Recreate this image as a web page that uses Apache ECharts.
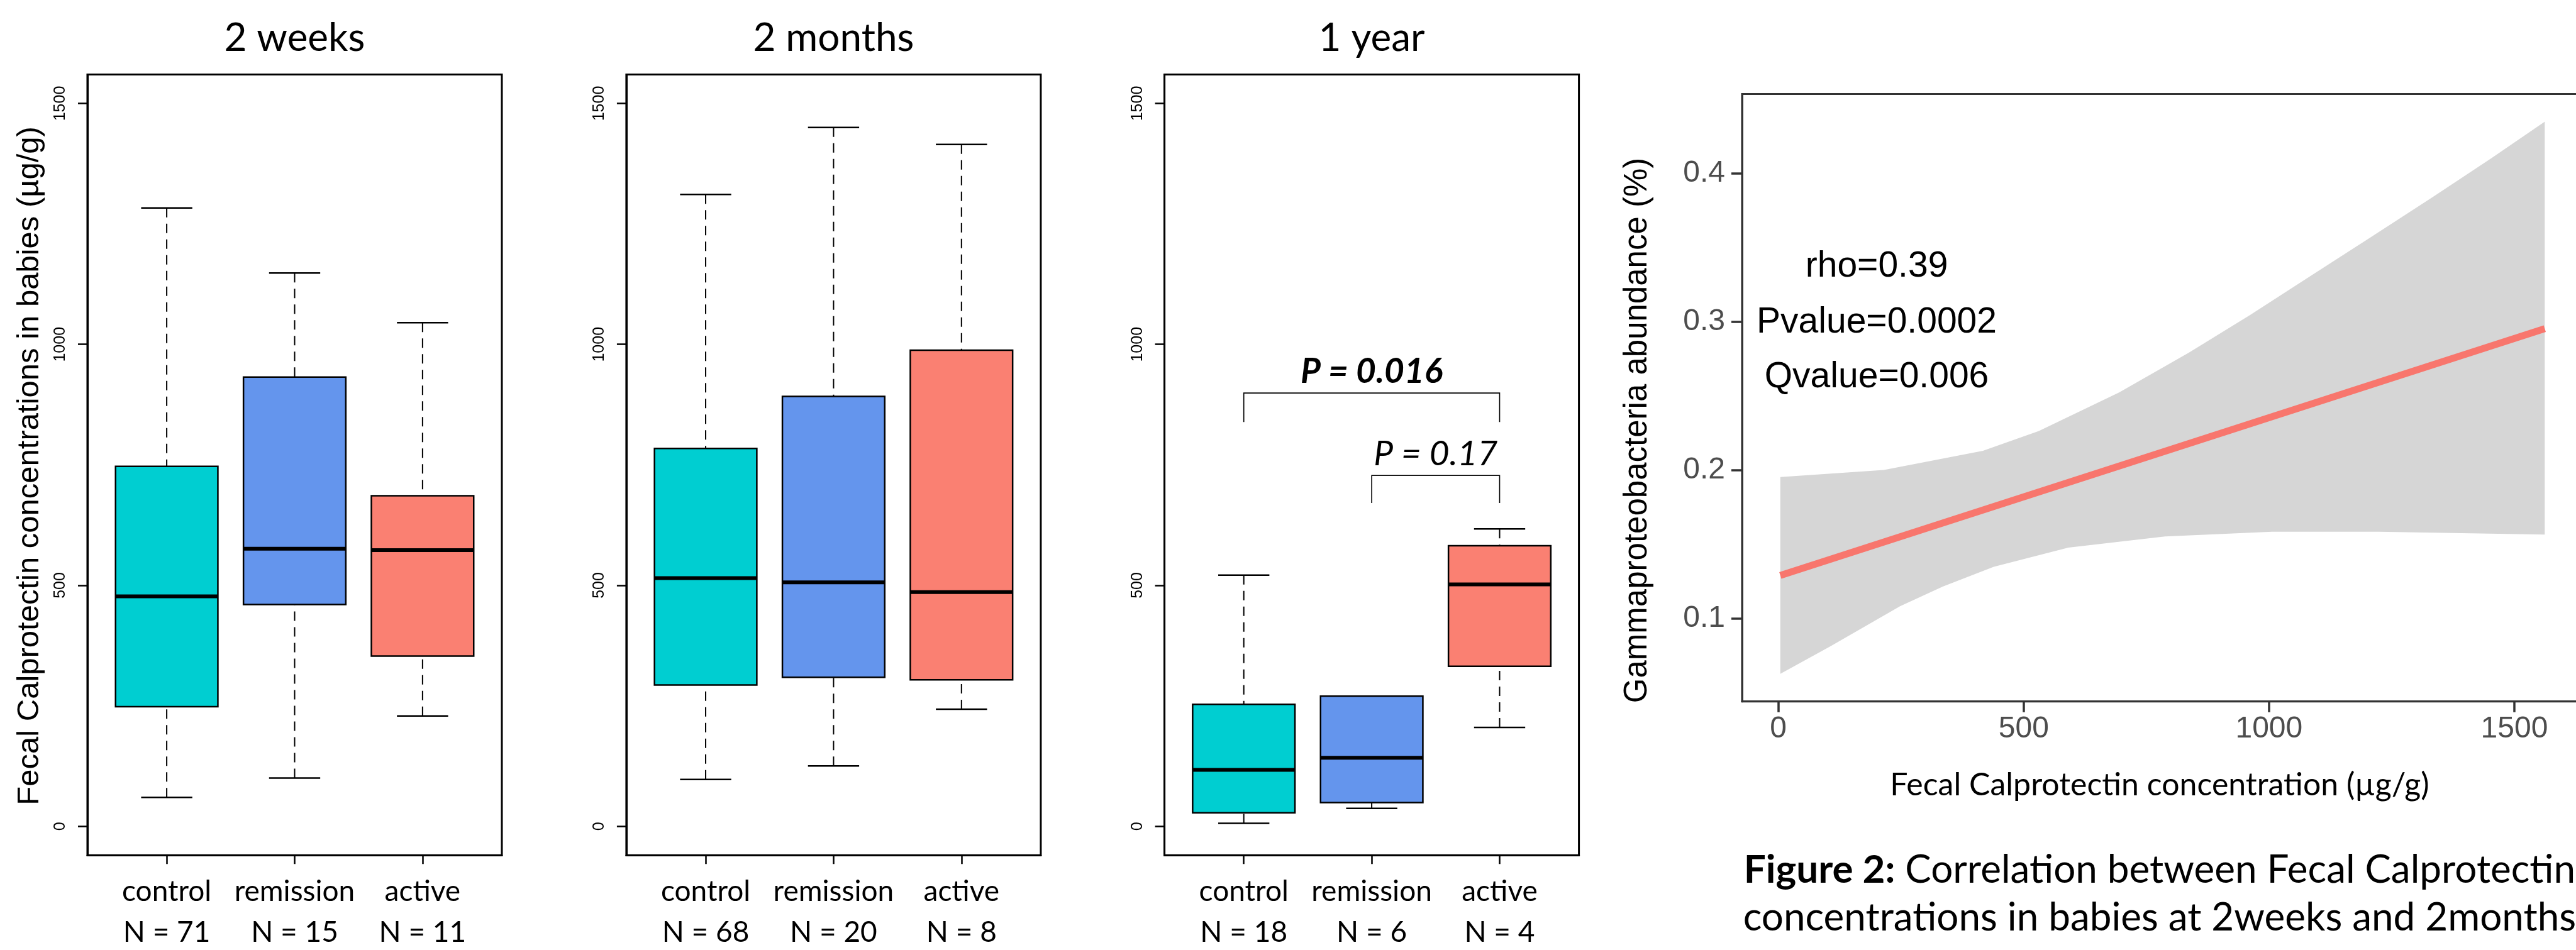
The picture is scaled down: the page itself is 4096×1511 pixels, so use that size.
<!DOCTYPE html>
<html>
<head>
<meta charset="utf-8">
<script src="https://cdn.jsdelivr.net/npm/echarts@6/dist/echarts.min.js"></script>
<style>
  html, body { margin: 0; padding: 0; background: #fff; }
  #chart { width: 4096px; height: 1511px; }
</style>
</head>
<body>
<div id="chart"></div>
<script>
// ---------------- DATA ----------------
const categories = ['control', 'remission', 'active'];
const panelTitles = ['2 weeks', '2 months', '1 year'];
const sampleSizes = [[71, 15, 11], [68, 20, 8], [18, 6, 4]];
// each box: [lower whisker, Q1, median, Q3, upper whisker]
const boxes2weeks  = [[60, 248, 477, 747, 1283], [100, 460, 576, 932, 1148], [229, 353, 573, 686, 1045]];
const boxes2months = [[97, 293, 515, 784, 1311], [125, 309, 506, 892, 1450], [243, 304, 486, 988, 1415]];
const boxes1year   = [[6, 28, 117, 253, 521], [37, 49, 142, 270, 270], [205, 332, 502, 582, 617]];
const boxColors = ['#00CED1', '#6495ED', '#FA8072'];
const boxYTicks = [0, 500, 1000, 1500];
// significance brackets in 1-year panel: [fromGroup, toGroup, barValue, legEndValue]
const brackets = [[1, 3, 899, 839], [2, 3, 728, 671]];
const bracketLabels = ['P = 0.016', 'P = 0.17'];
const bracketBold = [true, false];

// correlation panel
const fitX = [4, 1562];
const fitY = [0.129, 0.2954];
const ciUpperX = [4, 215, 417, 531, 695, 837, 962, 1088, 1208, 1333, 1453, 1562];
const ciUpperY = [0.1953, 0.2001, 0.2130, 0.2264, 0.2524, 0.2793, 0.3047, 0.3316, 0.3571, 0.3839, 0.4102, 0.4349];
const ciLowerX = [4, 106, 248, 335, 439, 591, 788, 1006, 1224, 1562];
const ciLowerY = [0.0627, 0.0813, 0.1083, 0.1215, 0.1349, 0.1478, 0.1553, 0.1585, 0.1585, 0.1566];
const corrXTicks = [0, 500, 1000, 1500];
const corrYTicks = [0.1, 0.2, 0.3, 0.4];
const statsText = ['rho=0.39', 'Pvalue=0.0002', 'Qvalue=0.006'];

// ---------------- LAYOUT ----------------
const S = 4096 / 6601;
const CAL = 'Lato, "Open Sans", sans-serif';
const ARI = '"Liberation Sans", Arial, sans-serif';
const allBoxes = [boxes2weeks, boxes2months, boxes1year];
const panelLeft = [224, 1605, 2984].map(v => v * S);
const panelWidth = 1062 * S;
const panelTop = 191 * S;
const panelHeight = (2192 - 191) * S;

const grids = [], xAxes = [], yAxes = [], series = [], graphics = [];

allBoxes.forEach((bx, p) => {
  grids.push({
    left: panelLeft[p], top: panelTop, width: panelWidth, height: panelHeight,
    show: true, borderColor: '#000', borderWidth: 3, backgroundColor: 'transparent',
    containLabel: false, outerBoundsMode: 'none'
  });
  xAxes.push({
    type: 'value', gridIndex: p, min: 0.38, max: 3.62,
    axisLine: { show: true, onZero: false, lineStyle: { color: '#000', width: 3 } },
    splitLine: { show: false },
    axisTick: { show: true, customValues: [1, 2, 3], length: 14, lineStyle: { color: '#000', width: 2.5 } },
    axisLabel: {
      customValues: [1, 2, 3], margin: 26,
      formatter: v => categories[v - 1] + '\n' + 'N = ' + sampleSizes[p][v - 1],
      fontFamily: CAL, fontSize: 46, color: '#000', lineHeight: 65
    }
  });
  yAxes.push({
    type: 'value', gridIndex: p, min: -60, max: 1560,
    axisLine: { show: true, onZero: false, lineStyle: { color: '#000', width: 3 } },
    splitLine: { show: false },
    axisTick: { show: true, customValues: boxYTicks, length: 15, lineStyle: { color: '#000', width: 2.5 } },
    axisLabel: {
      customValues: boxYTicks, rotate: 90, margin: 30, formatter: v => String(v),
      fontFamily: ARI, fontSize: 25, color: '#000'
    }
  });
  series.push({
    type: 'custom', xAxisIndex: p, yAxisIndex: p, clip: false,
    data: bx.map((b, j) => [j + 1, b[0], b[1], b[2], b[3], b[4], j]),
    renderItem: (params, api) => {
      const x = api.value(0);
      const lo = api.value(1), q1 = api.value(2), md = api.value(3), q3 = api.value(4), hi = api.value(5);
      const col = boxColors[api.value(6)];
      const cx = api.coord([x, md])[0];
      const y = v => api.coord([x, v])[1];
      const halfBox = api.size([0.4, 0])[0];
      const halfCap = api.size([0.2, 0])[0];
      const children = [];
      const dash = { stroke: '#000', lineWidth: 2, lineDash: [15, 10] };
      const solid = { stroke: '#000', lineWidth: 2.5 };
      if (hi > q3) children.push({ type: 'line', shape: { x1: cx, y1: y(hi), x2: cx, y2: y(q3) }, style: dash });
      if (lo < q1) children.push({ type: 'line', shape: { x1: cx, y1: y(lo), x2: cx, y2: y(q1) }, style: dash });
      children.push({ type: 'line', shape: { x1: cx - halfCap, y1: y(hi), x2: cx + halfCap, y2: y(hi) }, style: solid });
      children.push({ type: 'line', shape: { x1: cx - halfCap, y1: y(lo), x2: cx + halfCap, y2: y(lo) }, style: solid });
      children.push({ type: 'rect', shape: { x: cx - halfBox, y: y(q3), width: 2 * halfBox, height: y(q1) - y(q3) },
        style: { fill: col, stroke: '#000', lineWidth: 2.5 } });
      children.push({ type: 'line', shape: { x1: cx - halfBox, y1: y(md), x2: cx + halfBox, y2: y(md) },
        style: { stroke: '#000', lineWidth: 6 } });
      return { type: 'group', children };
    }
  });
  graphics.push({
    type: 'text', x: panelLeft[p] + panelWidth / 2, y: 98 * S,
    style: { text: panelTitles[p], font: '62px ' + CAL, fill: '#000', align: 'center', verticalAlign: 'middle' }
  });
});

// brackets on 1-year panel
series.push({
  type: 'custom', xAxisIndex: 2, yAxisIndex: 2, clip: false,
  data: brackets.map((b, i) => [b[0], b[1], b[2], b[3], i]),
  renderItem: (params, api) => {
    const a = api.coord([api.value(0), api.value(2)]);
    const b = api.coord([api.value(1), api.value(2)]);
    const aL = api.coord([api.value(0), api.value(3)]);
    const bL = api.coord([api.value(1), api.value(3)]);
    const i = api.value(4);
    return {
      type: 'group', children: [
        { type: 'polyline', shape: { points: [[aL[0], aL[1]], [a[0], a[1]], [b[0], b[1]], [bL[0], bL[1]]] },
          style: { stroke: '#000', lineWidth: 1.6, fill: null } },
        { type: 'text', x: (a[0] + b[0]) / 2, y: a[1] - 34,
          style: { text: bracketLabels[i], font: (bracketBold[i] ? 'italic bold ' : 'italic ') + '55px ' + CAL,
            fill: '#000', align: 'center', verticalAlign: 'middle' } }
      ]
    };
  }
});

// correlation panel (index 3)
const cLeft = 4464 * S, cTop = 241 * S, cWidth = 2155 * S, cHeight = (1798 - 241) * S;
grids.push({
  left: cLeft, top: cTop, width: cWidth, height: cHeight,
  show: true, borderColor: '#333', borderWidth: 3, backgroundColor: 'transparent',
  containLabel: false, outerBoundsMode: 'none'
});
xAxes.push({
  type: 'value', gridIndex: 3, min: -74, max: 1640,
  axisLine: { show: true, onZero: false, lineStyle: { color: '#333', width: 3 } },
  splitLine: { show: false },
  axisTick: { show: true, customValues: corrXTicks, length: 17, lineStyle: { color: '#333', width: 3.5 } },
  axisLabel: { customValues: corrXTicks, margin: 20, formatter: v => String(v),
    fontFamily: ARI, fontSize: 48, color: '#4D4D4D' }
});
yAxes.push({
  type: 'value', gridIndex: 3, min: 0.0441, max: 0.4535,
  axisLine: { show: true, onZero: false, lineStyle: { color: '#333', width: 3 } },
  splitLine: { show: false },
  axisTick: { show: true, customValues: corrYTicks, length: 17, lineStyle: { color: '#333', width: 3.5 } },
  axisLabel: { customValues: corrYTicks, margin: 27, fontFamily: ARI, fontSize: 48, color: '#4D4D4D',
    formatter: v => v.toFixed(1) }
});
series.push({
  type: 'custom', xAxisIndex: 3, yAxisIndex: 3, clip: true, z: 1,
  data: [[0]],
  renderItem: (params, api) => {
    const pts = [];
    ciUpperX.forEach((x, i) => pts.push(api.coord([x, ciUpperY[i]])));
    for (let i = ciLowerX.length - 1; i >= 0; i--) pts.push(api.coord([ciLowerX[i], ciLowerY[i]]));
    return { type: 'polygon', shape: { points: pts }, style: { fill: '#D6D6D6', stroke: null } };
  }
});
series.push({
  type: 'line', xAxisIndex: 3, yAxisIndex: 3, z: 3,
  data: fitX.map((x, i) => [x, fitY[i]]),
  symbol: 'none', lineStyle: { color: '#F8766D', width: 11, cap: 'butt' }
});

// free text
graphics.push({
  type: 'text', x: 38 * S + 24, y: 1194 * S, rotation: Math.PI / 2,
  style: { text: 'Fecal Calprotectin concentrations in babies (µg/g)', font: '49px ' + ARI, fill: '#000',
    align: 'center', verticalAlign: 'middle' }
});
graphics.push({
  type: 'text', x: 4196 * S, y: 1103 * S, rotation: Math.PI / 2,
  style: { text: 'Gammaproteobacteria abundance (%)', font: '51px ' + ARI, fill: '#000',
    align: 'center', verticalAlign: 'middle' }
});
[684, 827, 967].forEach((yy, i) => graphics.push({
  type: 'text', x: 4809 * S, y: yy * S,
  style: { text: statsText[i], font: '57px ' + ARI, fill: '#000', align: 'center', verticalAlign: 'middle' }
}));
graphics.push({
  type: 'text', x: 5534 * S, y: 2013 * S,
  style: { text: 'Fecal Calprotectin concentration (µg/g)', font: '50px ' + CAL, fill: '#000',
    align: 'center', verticalAlign: 'middle' }
});
graphics.push({
  type: 'text', x: 5534 * S, y: 2230 * S,
  style: {
    text: '{b|Figure 2:}{n| Correlation between Fecal Calprotectin}',
    rich: { b: { font: 'bold 62px ' + CAL, fill: '#000' }, n: { font: '62px ' + CAL, fill: '#000' } },
    align: 'center', verticalAlign: 'middle'
  }
});
graphics.push({
  type: 'text', x: 5534 * S, y: 2353 * S,
  style: { text: 'concentrations in babies at 2weeks and 2months', font: '62px ' + CAL, fill: '#000',
    align: 'center', verticalAlign: 'middle' }
});

const chart = echarts.init(document.getElementById('chart'), null, { renderer: 'canvas', width: 4096, height: 1511 });
chart.setOption({
  animation: false,
  backgroundColor: '#fff',
  grid: grids, xAxis: xAxes, yAxis: yAxes, series: series, graphic: graphics
});
</script>
</body>
</html>
